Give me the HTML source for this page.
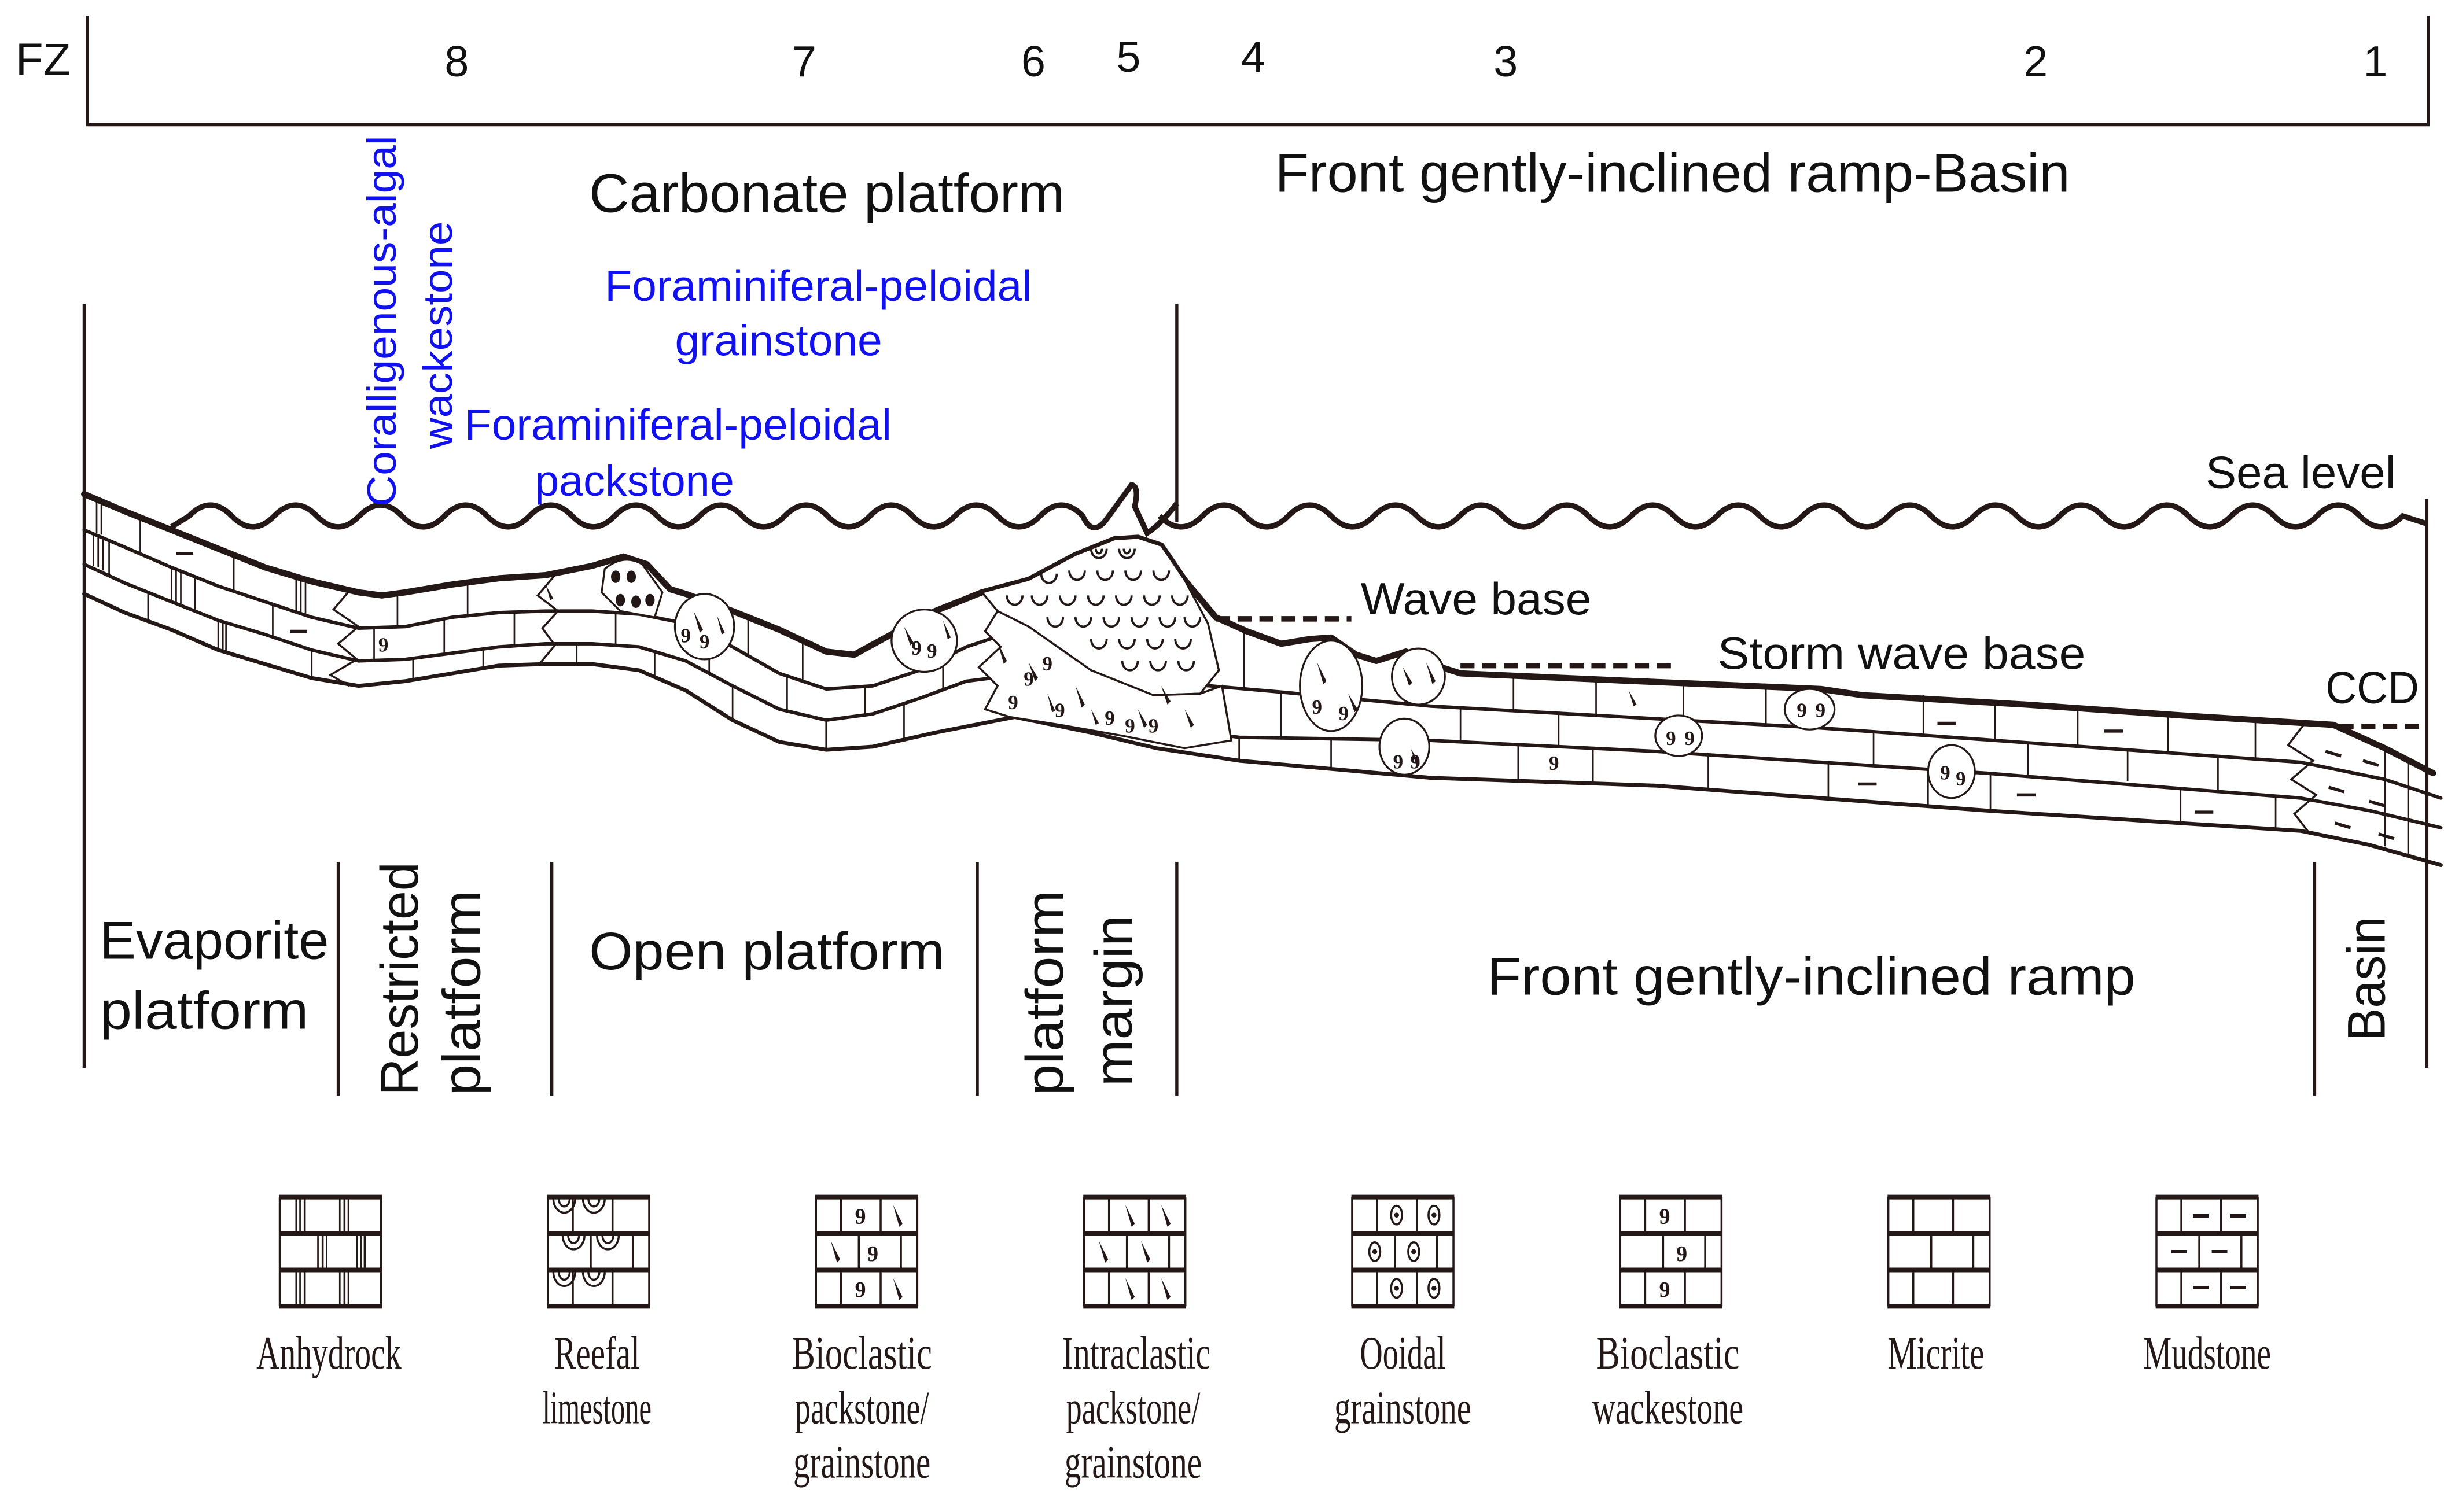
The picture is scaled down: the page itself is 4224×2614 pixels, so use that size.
<!DOCTYPE html>
<html><head><meta charset="utf-8"><style>
html,body{margin:0;padding:0;background:#fff}
svg{display:block}
.s{font-family:"Liberation Sans",sans-serif;fill:#111}
.b{font-family:"Liberation Sans",sans-serif;fill:#1010f0}
.l{font-family:"Liberation Serif",serif;fill:#231815;font-size:30px}
.n{font-family:"Liberation Serif",serif;fill:#231815;font-weight:bold}
</style></head><body>
<svg width="4224" height="2614" viewBox="0 0 1568 970" preserveAspectRatio="none" xmlns="http://www.w3.org/2000/svg">
<rect width="1568" height="970" fill="#fff"/>
<g stroke="#231815" fill="none">
<polyline points="56,10 56,80 1558,80 1558,10" stroke-width="2"/>
<line x1="54" y1="195" x2="54" y2="685" stroke-width="2"/>
<line x1="755" y1="195" x2="755" y2="335" stroke-width="2"/>
<line x1="1557" y1="320" x2="1557" y2="685" stroke-width="2"/>
<line x1="217" y1="553" x2="217" y2="703" stroke-width="2"/>
<line x1="354" y1="553" x2="354" y2="703" stroke-width="2"/>
<line x1="627" y1="553" x2="627" y2="703" stroke-width="2"/>
<line x1="755" y1="553" x2="755" y2="703" stroke-width="2"/>
<line x1="1485" y1="553" x2="1485" y2="703" stroke-width="2"/>
<path stroke-width="3.5" d="M110,338 L121.35,331 Q135,317 148.65,331 T175.95,331 T203.25,331 T230.55,331 T257.85,331 T285.15,331 T312.45,331 T339.75,331 T367.05,331 T394.35,331 T421.65,331 T448.95,331 T476.25,331 T503.55,331 T530.85,331 T558.15,331 T585.45,331 T612.75,331 T640.05,331 T667.35,331 T694.65,331 Q701,345 710,333 L726,311 Q731,312 728,325 L736,342 Q745,336 755,323"/>
<path stroke-width="3.5" d="M744,331 Q757.75,345 771.5,331 T799,331 T826.5,331 T854,331 T881.5,331 T909,331 T936.5,331 T964,331 T991.5,331 T1019,331 T1046.5,331 T1074,331 T1101.5,331 T1129,331 T1156.5,331 T1184,331 T1211.5,331 T1239,331 T1266.5,331 T1294,331 T1321.5,331 T1349,331 T1376.5,331 T1404,331 T1431.5,331 T1459,331 T1486.5,331 T1514,331 T1541.5,331 L1557,336"/>
<line x1="780" y1="397" x2="867" y2="397" stroke-width="3.5" stroke-dasharray="9,5"/>
<line x1="937" y1="427" x2="1072" y2="427" stroke-width="3.5" stroke-dasharray="9,5"/>
<line x1="1501" y1="466" x2="1557" y2="466" stroke-width="3.5" stroke-dasharray="9,5"/>
<g stroke-linejoin="round" stroke-linecap="round">
<polyline stroke-width="2.2" points="54,340 80,351 110,364 140,376 170,386 200,396 230,403 260,402 290,396 320,393 350,392 380,392 410,394 440,400 470,415 500,432 530,442 560,440 590,430 620,415 650,405 700,420 742,437 822,444 918,453 1168,467 1476,489 1530,500 1566,512"/>
<polyline stroke-width="2.2" points="54,362 80,374 110,386 140,398 170,407 200,417 230,424 260,423 290,419 320,415 350,413 380,413 410,415 440,424 470,440 500,455 530,462 560,458 590,448 620,437 660,432 700,446 742,466 795,473 918,475 1062,482 1274,496 1476,512 1520,520 1566,531"/>
<polyline stroke-width="2.5" points="54,381 80,393 110,404 140,417 170,426 200,435 230,440 260,437 290,432 320,427 350,426 380,426 410,430 440,443 470,462 500,476 530,481 560,479 600,470 651,460 700,470 742,480 795,488 918,499 1062,504 1274,520 1476,533 1520,542 1566,555"/>
<polyline stroke-width="4" points="54,317 80,328 110,340 140,352 170,364 200,373 230,380 245,382 260,380 290,375 320,371 350,369 380,363 400,357 415,362 430,378 440,381 470,392 500,404 530,418 548,420 570,408 600,392 630,380 660,372 690,356 715,346 730,345 745,350 760,372 780,396 800,405 822,413 840,410 854,409 870,420 883,424 902,418 915,425 937,432 1050,437 1168,442 1195,446 1300,452 1400,459 1497,465 1530,480 1561,496"/>
</g>
<g stroke-width="1">
<line x1="90" y1="332" x2="90" y2="355"/><line x1="150" y1="356" x2="150" y2="379"/><line x1="255" y1="381" x2="255" y2="402"/><line x1="300" y1="374" x2="300" y2="395"/><line x1="480" y1="396" x2="480" y2="421"/><line x1="515" y1="411" x2="515" y2="437"/><line x1="590" y1="397" x2="590" y2="430"/>
<line x1="70" y1="347" x2="70" y2="370"/><line x1="125" y1="370" x2="125" y2="392"/><line x1="175" y1="388" x2="175" y2="409"/><line x1="240" y1="403" x2="240" y2="424"/><line x1="285" y1="397" x2="285" y2="420"/><line x1="330" y1="393" x2="330" y2="414"/><line x1="395" y1="393" x2="395" y2="414"/><line x1="455" y1="407" x2="455" y2="432"/><line x1="505" y1="434" x2="505" y2="457"/><line x1="555" y1="440" x2="555" y2="459"/><line x1="605" y1="422" x2="605" y2="443"/>
<line x1="95" y1="380" x2="95" y2="398"/><line x1="145" y1="400" x2="145" y2="419"/><line x1="200" y1="417" x2="200" y2="435"/><line x1="265" y1="422" x2="265" y2="436"/><line x1="310" y1="416" x2="310" y2="429"/><line x1="370" y1="413" x2="370" y2="426"/><line x1="420" y1="417" x2="420" y2="434"/><line x1="470" y1="440" x2="470" y2="462"/><line x1="530" y1="462" x2="530" y2="481"/><line x1="580" y1="451" x2="580" y2="475"/>
<line x1="60" y1="342" x2="60" y2="363"/><line x1="63" y1="343" x2="63" y2="364"/><line x1="66" y1="344" x2="66" y2="366"/>
<line x1="110" y1="365" x2="110" y2="386"/><line x1="113" y1="366" x2="113" y2="387"/><line x1="116" y1="367" x2="116" y2="389"/>
<line x1="190" y1="370" x2="190" y2="393"/><line x1="193" y1="371" x2="193" y2="394"/><line x1="196" y1="372" x2="196" y2="395"/>
<line x1="140" y1="398" x2="140" y2="417"/><line x1="143" y1="399" x2="143" y2="418"/>
<line x1="62" y1="321" x2="62" y2="342"/><line x1="65" y1="322" x2="65" y2="343"/>
</g>
<g stroke-width="1">
<line x1="798" y1="405" x2="798" y2="442"/><line x1="971" y1="434" x2="971" y2="456"/><line x1="1024" y1="436" x2="1024" y2="460"/><line x1="1080" y1="438" x2="1080" y2="463"/><line x1="1133" y1="440" x2="1133" y2="465"/><line x1="1234" y1="446" x2="1234" y2="472"/><line x1="1280" y1="451" x2="1280" y2="475"/><line x1="1333" y1="454" x2="1333" y2="479"/><line x1="1391" y1="458" x2="1391" y2="483"/><line x1="1447" y1="462" x2="1447" y2="487"/>
<line x1="822" y1="444" x2="822" y2="474"/><line x1="937" y1="454" x2="937" y2="476"/><line x1="1000" y1="458" x2="1000" y2="478"/><line x1="1202" y1="469" x2="1202" y2="490"/><line x1="1301" y1="477" x2="1301" y2="497"/><line x1="1365" y1="481" x2="1365" y2="501"/><line x1="1423" y1="486" x2="1423" y2="508"/>
<line x1="795" y1="473" x2="795" y2="488"/><line x1="854" y1="474" x2="854" y2="493"/><line x1="974" y1="477" x2="974" y2="501"/><line x1="1022" y1="479" x2="1022" y2="503"/><line x1="1096" y1="483" x2="1096" y2="506"/><line x1="1173" y1="489" x2="1173" y2="512"/><line x1="1237" y1="493" x2="1237" y2="517"/><line x1="1277" y1="496" x2="1277" y2="520"/><line x1="1399" y1="506" x2="1399" y2="528"/><line x1="1460" y1="511" x2="1460" y2="532"/>
<line x1="1530" y1="482" x2="1530" y2="543"/><line x1="1545" y1="489" x2="1545" y2="550"/>
</g>
<g stroke-width="1.3">
<polyline points="225,378 214,391 230,402 217,413 229,423 212,433 224,440"/>
<polyline points="356,369 345,382 358,392 348,403 356,414 346,426"/>
<polyline points="1478,465 1468,478 1484,488 1470,500 1486,510 1472,522 1482,535"/>
</g>
<g stroke-width="2">
<line x1="113" y1="355" x2="124" y2="355"/><line x1="186" y1="405" x2="197" y2="405"/>
<line x1="1243" y1="464" x2="1255" y2="464"/><line x1="1350" y1="469" x2="1362" y2="469"/>
<line x1="1192" y1="503" x2="1204" y2="503"/><line x1="1294" y1="510" x2="1306" y2="510"/><line x1="1408" y1="521" x2="1420" y2="521"/>
<line x1="1492" y1="482" x2="1502" y2="485"/><line x1="1516" y1="488" x2="1526" y2="491"/><line x1="1494" y1="505" x2="1504" y2="508"/><line x1="1520" y1="514" x2="1530" y2="517"/><line x1="1498" y1="528" x2="1508" y2="531"/><line x1="1526" y1="535" x2="1536" y2="538"/>
</g>
<path d="M630,380 L660,372 690,356 715,346 730,345 745,350 760,372 775,400 782,430 770,445 740,446 700,430 660,402 640,392 Z" fill="#fff" stroke-width="1.3"/>
<path d="M640,392 L632,405 642,415 628,428 640,440 632,455 648,460 680,465 720,472 760,480 790,475 784,440 770,445 740,446 700,430 660,402 Z" fill="#fff" stroke-width="1.3"/>
<g stroke-width="1.4">
<path d="M700,352 a5,6 0 0 0 10,0 M703,352 a2,3 0 0 0 4,0 M718,352 a5,6 0 0 0 10,0 M721,352 a2,3 0 0 0 4,0"/>
<path d="M668,368 a5,6 0 0 0 10,0 M686,366 a5,6 0 0 0 10,0 M704,366 a5,6 0 0 0 10,0 M722,366 a5,6 0 0 0 10,0 M740,366 a5,6 0 0 0 10,0"/>
<path d="M646,382 a5,6 0 0 0 10,0 M662,382 a5,6 0 0 0 10,0 M680,382 a5,6 0 0 0 10,0 M698,382 a5,6 0 0 0 10,0 M716,382 a5,6 0 0 0 10,0 M734,382 a5,6 0 0 0 10,0 M752,382 a5,6 0 0 0 10,0"/>
<path d="M672,396 a5,6 0 0 0 10,0 M690,396 a5,6 0 0 0 10,0 M708,396 a5,6 0 0 0 10,0 M726,396 a5,6 0 0 0 10,0 M744,396 a5,6 0 0 0 10,0 M760,396 a5,6 0 0 0 10,0"/>
<path d="M700,410 a5,6 0 0 0 10,0 M718,410 a5,6 0 0 0 10,0 M736,410 a5,6 0 0 0 10,0 M754,410 a5,6 0 0 0 10,0"/>
<path d="M720,424 a5,6 0 0 0 10,0 M738,424 a5,6 0 0 0 10,0 M756,424 a5,6 0 0 0 10,0"/>
</g>
<g fill="#fff" stroke-width="1.2">
<path d="M388,365 Q400,355 412,362 L425,380 L420,396 L398,392 L386,380 Z"/>
<ellipse cx="452" cy="402" rx="19" ry="21"/>
<ellipse cx="593" cy="411" rx="21" ry="20"/>
<ellipse cx="854" cy="440" rx="20" ry="29"/>
<ellipse cx="910" cy="434" rx="17" ry="18"/>
<ellipse cx="901" cy="479" rx="16" ry="18"/>
<ellipse cx="1077" cy="472" rx="15" ry="13"/>
<ellipse cx="1161" cy="455" rx="16" ry="13"/>
<ellipse cx="1252" cy="495" rx="15" ry="17"/>
</g>
<g fill="#231815" stroke="none">
<ellipse cx="395" cy="370" rx="3" ry="4"/><ellipse cx="405" cy="370" rx="3" ry="4"/>
<ellipse cx="398" cy="385" rx="3" ry="4"/><ellipse cx="408" cy="386" rx="3" ry="4"/><ellipse cx="417" cy="385" rx="3" ry="4"/>
<path d="M445,392 l4,14 l2,-2 Z M460,395 l3,12 l2,-1 Z M580,402 l4,12 l2,-2 Z M605,398 l3,12 l2,-1 Z M845,425 l4,14 l2,-2 Z M865,445 l4,12 l2,-2 Z M900,428 l4,12 l2,-2 Z M915,425 l4,14 l2,-2 Z M905,480 l4,12 l2,-2 Z M1045,443 l3,10 l2,-1 Z M640,412 l4,14 l2,-2 Z M660,425 l4,12 l2,-2 Z M690,440 l4,14 l2,-2 Z M730,455 l4,12 l2,-2 Z M760,455 l4,12 l2,-2 Z M700,455 l3,10 l2,-1 Z M745,440 l4,12 l2,-2 Z M672,445 l3,12 l2,-1 Z M350,375 l3,10 l2,-1 Z"/>
</g>
</g>
<g class="n" font-size="13" text-anchor="middle">
<text x="246" y="418">9</text><text x="440" y="412">9</text><text x="452" y="416">9</text><text x="588" y="420">9</text><text x="598" y="422">9</text>
<text x="845" y="458">9</text><text x="862" y="462">9</text><text x="897" y="493">9</text><text x="908" y="493">9</text><text x="997" y="494">9</text>
<text x="1072" y="478">9</text><text x="1084" y="478">9</text><text x="1156" y="460">9</text><text x="1168" y="460">9</text><text x="1248" y="500">9</text><text x="1258" y="504">9</text>
<text x="650" y="455">9</text><text x="672" y="430">9</text><text x="712" y="465">9</text><text x="725" y="470">9</text><text x="680" y="460">9</text><text x="740" y="470">9</text><text x="660" y="440">9</text>
</g>
<text class="s" x="10" y="48" font-size="29">FZ</text>
<g class="s" font-size="28" text-anchor="middle">
<text x="293" y="49">8</text><text x="516" y="49">7</text><text x="663" y="49">6</text><text x="724" y="46">5</text><text x="804" y="46">4</text><text x="966" y="49">3</text><text x="1306" y="49">2</text><text x="1524" y="49">1</text>
</g>
<text class="s" x="378" y="136" font-size="35" textLength="305" lengthAdjust="spacingAndGlyphs">Carbonate platform</text>
<text class="s" x="818" y="123" font-size="35" textLength="510" lengthAdjust="spacingAndGlyphs">Front gently-inclined ramp-Basin</text>
<g class="b" font-size="28">
<text x="388" y="193" textLength="274" lengthAdjust="spacingAndGlyphs">Foraminiferal-peloidal</text>
<text x="433" y="228" textLength="133" lengthAdjust="spacingAndGlyphs">grainstone</text>
<text x="298" y="282" textLength="274" lengthAdjust="spacingAndGlyphs">Foraminiferal-peloidal</text>
<text x="343" y="318" textLength="128" lengthAdjust="spacingAndGlyphs">packstone</text>
</g>
<text class="b" font-size="26" transform="translate(254,325) rotate(-90)" textLength="238" lengthAdjust="spacingAndGlyphs">Coralligenous-algal</text>
<text class="b" font-size="26" transform="translate(290,288) rotate(-90)" textLength="146" lengthAdjust="spacingAndGlyphs">wackestone</text>
<g class="s" font-size="29">
<text x="873" y="394" textLength="148" lengthAdjust="spacingAndGlyphs">Wave base</text>
<text x="1102" y="429" textLength="236" lengthAdjust="spacingAndGlyphs">Storm wave base</text>
<text x="1492" y="451" textLength="60" lengthAdjust="spacingAndGlyphs">CCD</text>
<text x="1415" y="313" textLength="122" lengthAdjust="spacingAndGlyphs">Sea level</text>
</g>
<g class="s" font-size="34">
<text x="64" y="615" textLength="147" lengthAdjust="spacingAndGlyphs">Evaporite</text>
<text x="64" y="660" textLength="134" lengthAdjust="spacingAndGlyphs">platform</text>
<text x="378" y="622" textLength="228" lengthAdjust="spacingAndGlyphs">Open platform</text>
<text x="954" y="638" textLength="416" lengthAdjust="spacingAndGlyphs">Front gently-inclined ramp</text>
<text transform="translate(268,703) rotate(-90)" textLength="150" lengthAdjust="spacingAndGlyphs">Restricted</text>
<text transform="translate(308,703) rotate(-90)" textLength="132" lengthAdjust="spacingAndGlyphs">platform</text>
<text transform="translate(682,703) rotate(-90)" textLength="132" lengthAdjust="spacingAndGlyphs">platform</text>
<text transform="translate(726,697) rotate(-90)" textLength="110" lengthAdjust="spacingAndGlyphs">margin</text>
<text transform="translate(1530,668) rotate(-90)" textLength="80" lengthAdjust="spacingAndGlyphs">Basin</text>
</g>
<defs>
<g id="bx" stroke="#231815" fill="none">
<line x1="0" y1="0" x2="66" y2="0" stroke-width="3"/><line x1="0" y1="23.3" x2="66" y2="23.3" stroke-width="3"/><line x1="0" y1="46.7" x2="66" y2="46.7" stroke-width="3"/><line x1="0" y1="70" x2="66" y2="70" stroke-width="3"/>
<line x1="0.5" y1="0" x2="0.5" y2="70" stroke-width="1.3"/><line x1="65.5" y1="0" x2="65.5" y2="70" stroke-width="1.3"/>
<line x1="16.5" y1="0" x2="16.5" y2="23.3" stroke-width="1.3"/><line x1="42" y1="0" x2="42" y2="23.3" stroke-width="1.3"/>
<line x1="28" y1="23.3" x2="28" y2="46.7" stroke-width="1.3"/><line x1="55" y1="23.3" x2="55" y2="46.7" stroke-width="1.3"/>
<line x1="16.5" y1="46.7" x2="16.5" y2="70" stroke-width="1.3"/><line x1="42" y1="46.7" x2="42" y2="70" stroke-width="1.3"/>
</g>
</defs>
<g transform="translate(179,768)"><use href="#bx"/>
<g stroke="#231815" stroke-width="1"><path d="M11,0v23.3M13.5,0v23.3M39,0v23.3M44.5,0v23.3M11,46.7v23.3M13.5,46.7v23.3M39,46.7v23.3M44.5,46.7v23.3M25,23.3v23.4M30.5,23.3v23.4M50,23.3v23.4M52.5,23.3v23.4"/></g></g>
<g transform="translate(351,768)"><use href="#bx"/>
<g stroke="#231815" stroke-width="1.3" fill="none"><path d="M4,1a7,9 0 0 0 14,0M7.5,1a3.5,5 0 0 0 7,0M23,1a7,9 0 0 0 14,0M26.5,1a3.5,5 0 0 0 7,0M10,24.5a7,9 0 0 0 14,0M13.5,24.5a3.5,5 0 0 0 7,0M32,24.5a7,9 0 0 0 14,0M35.5,24.5a3.5,5 0 0 0 7,0M4,48a7,9 0 0 0 14,0M7.5,48a3.5,5 0 0 0 7,0M23,48a7,9 0 0 0 14,0M26.5,48a3.5,5 0 0 0 7,0"/></g></g>
<g transform="translate(523,768)"><use href="#bx"/>
<g class="n" font-size="14" text-anchor="middle"><text x="29" y="17">9</text><text x="37" y="41">9</text><text x="29" y="64">9</text></g>
<g fill="#231815"><path d="M50,5l4,14l2,-2Z M10,28l4,14l2,-2Z M50,52l4,14l2,-2Z"/></g></g>
<g transform="translate(695,768)"><use href="#bx"/>
<g fill="#231815"><path d="M27,5l4,14l2,-2Z M50,5l4,14l2,-2Z M10,28l4,14l2,-2Z M37,28l4,14l2,-2Z M27,52l4,14l2,-2Z M50,52l4,14l2,-2Z"/></g></g>
<g transform="translate(867,768)"><use href="#bx"/>
<g stroke="#231815" stroke-width="1.3" fill="none"><ellipse cx="29" cy="11.5" rx="3.5" ry="6"/><ellipse cx="53" cy="11.5" rx="3.5" ry="6"/><ellipse cx="15" cy="35" rx="3.5" ry="6"/><ellipse cx="40" cy="35" rx="3.5" ry="6"/><ellipse cx="29" cy="58.5" rx="3.5" ry="6"/><ellipse cx="53" cy="58.5" rx="3.5" ry="6"/></g>
<g fill="#231815"><circle cx="29" cy="11.5" r="1.6"/><circle cx="53" cy="11.5" r="1.6"/><circle cx="15" cy="35" r="1.6"/><circle cx="40" cy="35" r="1.6"/><circle cx="29" cy="58.5" r="1.6"/><circle cx="53" cy="58.5" r="1.6"/></g></g>
<g transform="translate(1039,768)"><use href="#bx"/>
<g class="n" font-size="14" text-anchor="middle"><text x="29" y="17">9</text><text x="40" y="41">9</text><text x="29" y="64">9</text></g></g>
<g transform="translate(1211,768)"><use href="#bx"/></g>
<g transform="translate(1383,768)"><use href="#bx"/>
<g stroke="#231815" stroke-width="2.2"><path d="M24,12h10M48,12h10M10,35h10M36,35h10M24,58h10M48,58h10"/></g></g>
<g class="l" text-anchor="middle">
<text x="211" y="878" textLength="93" lengthAdjust="spacingAndGlyphs">Anhydrock</text>
<text x="383" y="878" textLength="55" lengthAdjust="spacingAndGlyphs">Reefal</text>
<text x="383" y="913" textLength="70" lengthAdjust="spacingAndGlyphs">limestone</text>
<text x="553" y="878" textLength="90" lengthAdjust="spacingAndGlyphs">Bioclastic</text>
<text x="553" y="913" textLength="86" lengthAdjust="spacingAndGlyphs">packstone/</text>
<text x="553" y="948" textLength="88" lengthAdjust="spacingAndGlyphs">grainstone</text>
<text x="729" y="878" textLength="95" lengthAdjust="spacingAndGlyphs">Intraclastic</text>
<text x="727" y="913" textLength="86" lengthAdjust="spacingAndGlyphs">packstone/</text>
<text x="727" y="948" textLength="88" lengthAdjust="spacingAndGlyphs">grainstone</text>
<text x="900" y="878" textLength="55" lengthAdjust="spacingAndGlyphs">Ooidal</text>
<text x="900" y="913" textLength="88" lengthAdjust="spacingAndGlyphs">grainstone</text>
<text x="1070" y="878" textLength="92" lengthAdjust="spacingAndGlyphs">Bioclastic</text>
<text x="1070" y="913" textLength="97" lengthAdjust="spacingAndGlyphs">wackestone</text>
<text x="1242" y="878" textLength="62" lengthAdjust="spacingAndGlyphs">Micrite</text>
<text x="1416" y="878" textLength="82" lengthAdjust="spacingAndGlyphs">Mudstone</text>
</g>
</svg>
</body></html>
